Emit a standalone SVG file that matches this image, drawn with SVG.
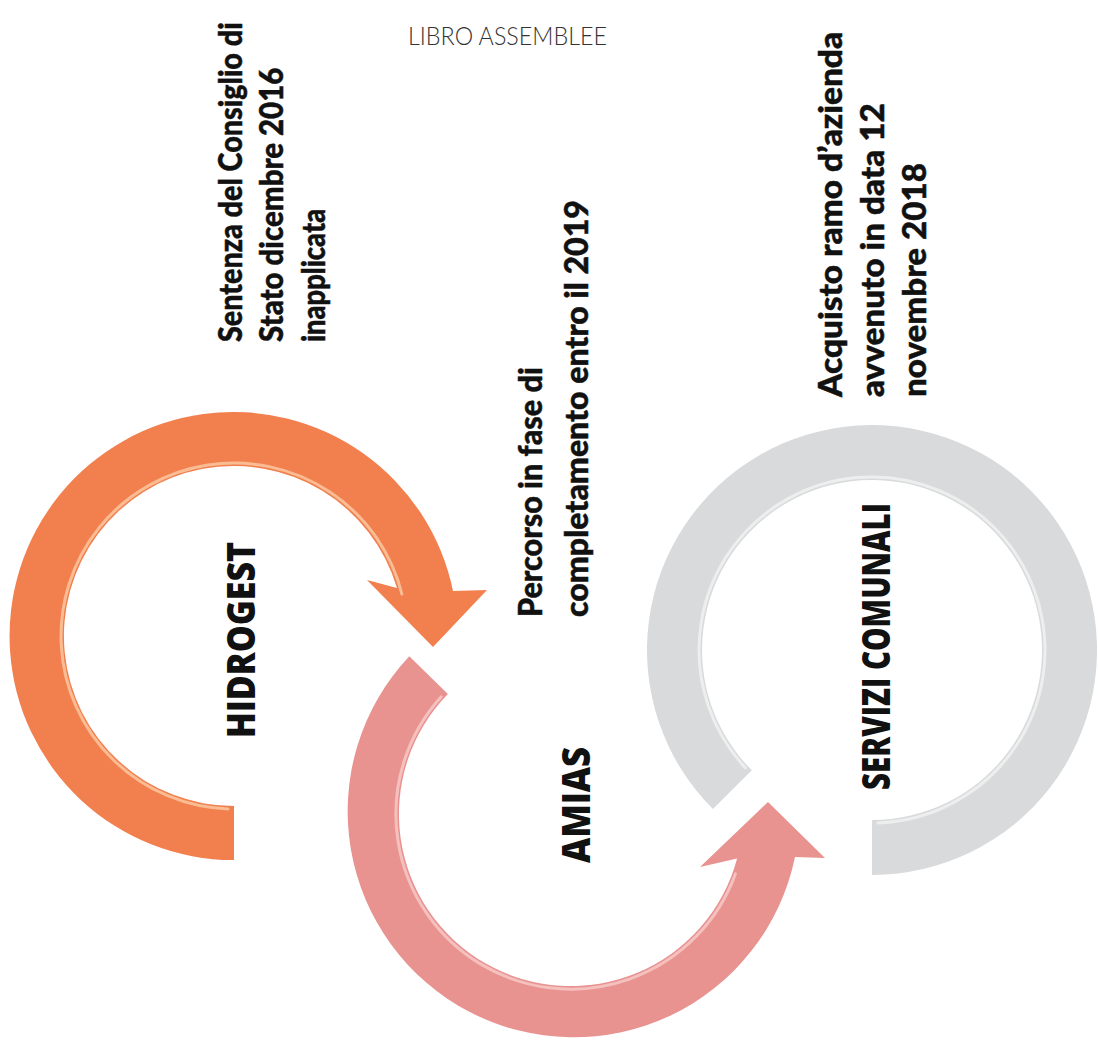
<svg xmlns="http://www.w3.org/2000/svg" width="1098" height="1046" viewBox="0 0 1098 1046">
<style>
.desc{font-family:Lato,"Open Sans","Liberation Sans",sans-serif;font-weight:900;font-size:33px;fill:#111;stroke:#111;stroke-width:0.5}
.lbl{font-family:"Open Sans","Liberation Sans",sans-serif;font-weight:800;font-size:38px;fill:#111}
.hl{fill:none;stroke-width:3;stroke-linecap:round}
</style>
<rect width="1098" height="1046" fill="#fff"/>
<text x="408" y="45" textLength="199" lengthAdjust="spacingAndGlyphs" style="font-family:Lato,'Liberation Sans',sans-serif;font-weight:300;font-size:25px;fill:#333">LIBRO ASSEMBLEE</text>
<g id="connectors">
  <g id="arrow-hidrogest">
    <path d="M 234 860 A 224 224 0 1 1 453 591 L 487 590 L 433 647 L 367 580 L 397 588 A 170 170 0 1 0 234 806 Z" fill="#F27F4E"/>
    <path class="hl" d="M 228 808.9 A 173 173 0 1 1 401.9 594.1" stroke="#FFE4C2" opacity="0.6"/>
  </g>
  <g id="arrow-amias">
    <path d="M 409.3 656.2 A 226 226 0 1 0 795 857 L 825 858 L 768 802 L 700 867 L 737.1 858.5 A 172 172 0 1 1 447.9 693.9 Z" fill="#E99391"/>
    <path class="hl" d="M 441 696.9 A 175 175 0 1 0 735.4 873.9" stroke="#FBE0DE" opacity="0.6"/>
  </g>
  <g id="arrow-servizi">
    <path d="M 712.9 809.1 A 225 225 0 1 1 872 875 L 872 820 A 170 170 0 1 0 751.8 770.2 Z" fill="#D8DADB"/>
    <path class="hl" d="M 745.5 768 A 173 173 0 1 1 878 822.9" stroke="#F6F6F6" opacity="0.7"/>
  </g>
</g>
<g id="node-hidrogest">
  <text class="lbl" transform="translate(255,738) rotate(-90)" textLength="196" lengthAdjust="spacingAndGlyphs">HIDROGEST</text>
  <g transform="translate(242,342) rotate(-90) scale(0.72,1)">
    <text class="desc" x="0" y="0" textLength="444" lengthAdjust="spacingAndGlyphs">Sentenza del Consiglio di</text>
    <text class="desc" x="0" y="41.5" textLength="381" lengthAdjust="spacingAndGlyphs">Stato dicembre 2016</text>
    <text class="desc" x="0" y="83" textLength="185" lengthAdjust="spacingAndGlyphs">inapplicata</text>
  </g>
</g>
<g id="node-amias">
  <text class="lbl" transform="translate(590,863) rotate(-90)" textLength="116" lengthAdjust="spacingAndGlyphs">AMIAS</text>
  <g transform="translate(542,617) rotate(-90) scale(0.72,1)">
    <text class="desc" x="0" y="0" textLength="347" lengthAdjust="spacingAndGlyphs">Percorso in fase di</text>
    <text class="desc" x="0" y="46" textLength="579" lengthAdjust="spacingAndGlyphs">completamento entro il 2019</text>
  </g>
</g>
<g id="node-servizi">
  <text class="lbl" transform="translate(890,790) rotate(-90)" textLength="287" lengthAdjust="spacingAndGlyphs">SERVIZI COMUNALI</text>
  <g transform="translate(842,397) rotate(-90) scale(0.72,1)">
    <text class="desc" x="0" y="0" textLength="507" lengthAdjust="spacingAndGlyphs">Acquisto ramo d’azienda</text>
    <text class="desc" x="0" y="42" textLength="408" lengthAdjust="spacingAndGlyphs">avvenuto in data 12</text>
    <text class="desc" x="0" y="84" textLength="325" lengthAdjust="spacingAndGlyphs">novembre 2018</text>
  </g>
</g>
</svg>
